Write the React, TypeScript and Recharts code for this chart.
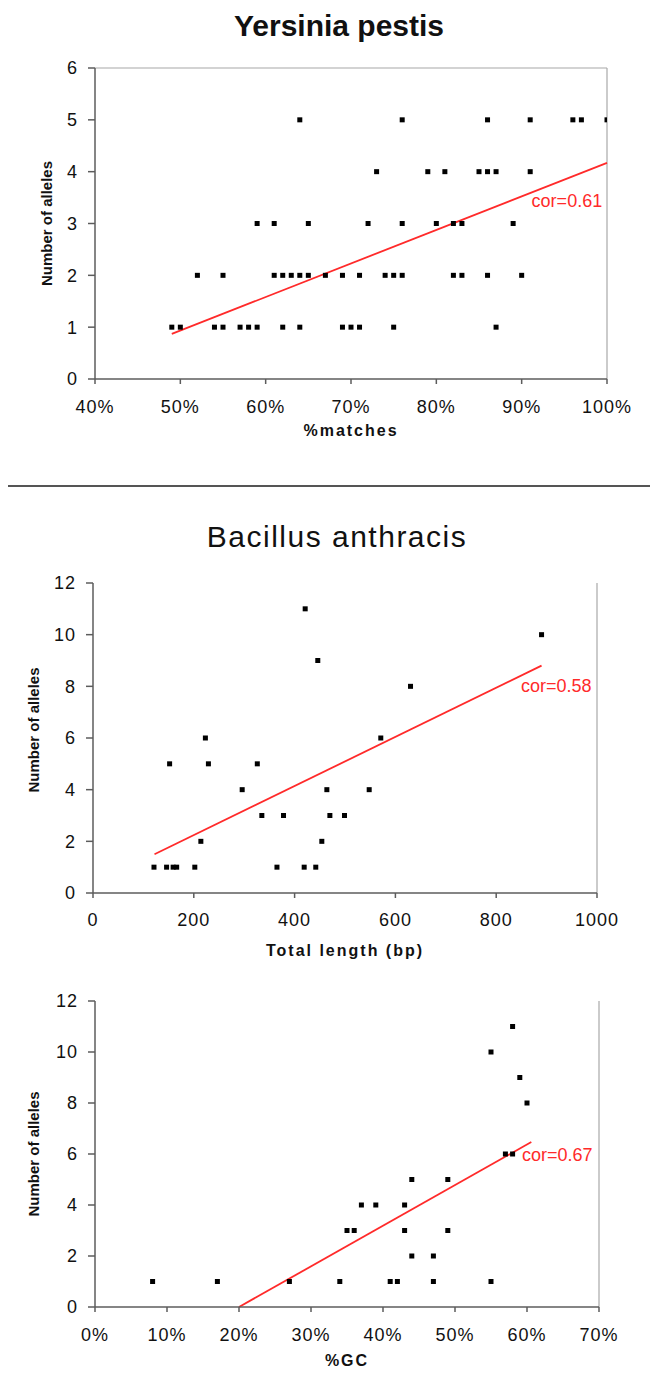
import { ScatterChart, Scatter, XAxis, YAxis, ReferenceLine, ReferenceDot } from "recharts";

const RED = "#ff2a2a";
const AXIS = "#5c5c5c";
const BORDER = "#a8a8a8";
const FONT = '"Liberation Sans", Arial, Helvetica, sans-serif';

// Yersinia pestis: %matches vs number of alleles
const yersiniaMatches = [
  49, 50, 54, 55, 57, 58, 59, 62, 64, 69, 70, 71, 75, 87,
  52, 55, 61, 62, 63, 64, 65, 67, 69, 71, 74, 75, 76, 82, 83, 86, 90,
  59, 61, 65, 72, 76, 80, 82, 83, 89,
  73, 79, 81, 85, 86, 87, 91,
  64, 76, 86, 91, 96, 97, 100,
];
const yersiniaAlleles = [
  1, 1, 1, 1, 1, 1, 1, 1, 1, 1, 1, 1, 1, 1,
  2, 2, 2, 2, 2, 2, 2, 2, 2, 2, 2, 2, 2, 2, 2, 2, 2,
  3, 3, 3, 3, 3, 3, 3, 3, 3,
  4, 4, 4, 4, 4, 4, 4,
  5, 5, 5, 5, 5, 5, 5,
];
const yersiniaFitX = [49, 100];
const yersiniaFitY = [0.87, 4.17];

// Bacillus anthracis: total length vs number of alleles
const anthracisLength = [
  121, 146, 159, 166, 202, 365, 419, 442,
  214, 454,
  335, 378, 470, 499,
  296, 464, 548,
  152, 229, 326,
  223, 571,
  630, 446, 890, 421,
];
const anthracisLengthAlleles = [
  1, 1, 1, 1, 1, 1, 1, 1,
  2, 2,
  3, 3, 3, 3,
  4, 4, 4,
  5, 5, 5,
  6, 6,
  8, 9, 10, 11,
];
const lengthFitX = [122, 890];
const lengthFitY = [1.5, 8.8];

// Bacillus anthracis: %GC vs number of alleles
const anthracisGC = [
  8, 17, 27, 34, 41, 42, 47, 55,
  44, 47,
  35, 36, 43, 49,
  37, 39, 43,
  44, 49,
  57, 58,
  60, 59, 55, 58,
];
const anthracisGCAlleles = [
  1, 1, 1, 1, 1, 1, 1, 1,
  2, 2,
  3, 3, 3, 3,
  4, 4, 4,
  5, 5,
  6, 6,
  8, 9, 10, 11,
];
const gcFitX = [20, 60.6];
const gcFitY = [0, 6.47];

const pctTicks1 = [40, 50, 60, 70, 80, 90, 100];
const alleleTicks1 = [0, 1, 2, 3, 4, 5, 6];
const lengthTicks = [0, 200, 400, 600, 800, 1000];
const gcTicks = [0, 10, 20, 30, 40, 50, 60, 70];
const alleleTicks2 = [0, 2, 4, 6, 8, 10, 12];

function Square(props: any) {
  const { cx, cy } = props;
  if (cx == null || cy == null) return null;
  return <rect x={cx - 2.5} y={cy - 2.5} width={5} height={5} fill="#000" />;
}

interface PanelProps {
  top: number;
  height: number;
  xs: number[];
  ys: number[];
  fitX: number[];
  fitY: number[];
  cor: string;
  corX: number;
  corY: number;
  xDomain: [number, number];
  xTicks: number[];
  pct: boolean;
  yDomain: [number, number];
  yTicks: number[];
  xLabel: string;
  margin: { top: number; right: number; bottom: number; left: number };
  yAxisWidth: number;
  xAxisHeight: number;
  xTickMargin: number;
  xLabelDy: number;
  yLabelX: number;
  yLabelDy: number;
  topBorder: boolean;
}

function Panel(p: PanelProps) {
  const data = p.xs.map((x, i) => ({ x, y: p.ys[i] }));
  const tickStyle = { fontSize: 18, fill: "#111", fontFamily: FONT, letterSpacing: 1 };
  return (
    <div style={{ position: "absolute", left: 0, top: p.top }}>
      <ScatterChart width={650} height={p.height} margin={p.margin}>
        <XAxis
          type="number"
          dataKey="x"
          domain={p.xDomain}
          ticks={p.xTicks}
          interval={0}
          allowDataOverflow
          tickFormatter={(v: number) => (p.pct ? `${v}%` : `${v}`)}
          height={p.xAxisHeight}
          tickSize={5}
          tickMargin={p.xTickMargin}
          stroke={AXIS}
          strokeWidth={1.5}
          tick={tickStyle}
          label={{
            content: (lp: any) => {
              const vb = lp.viewBox || {};
              return (
                <text
                  x={vb.x + vb.width / 2}
                  y={vb.y + p.xLabelDy}
                  textAnchor="middle"
                  dominantBaseline="central"
                  fontSize={16}
                  fontWeight="bold"
                  letterSpacing={2}
                  fontFamily={FONT}
                  fill="#111"
                >
                  {p.xLabel}
                </text>
              );
            },
          }}
        />
        <YAxis
          type="number"
          dataKey="y"
          domain={p.yDomain}
          ticks={p.yTicks}
          interval={0}
          width={p.yAxisWidth}
          tickSize={7}
          tickMargin={10}
          stroke={AXIS}
          strokeWidth={1.5}
          tick={tickStyle}
          label={{
            content: (lp: any) => {
              const vb = lp.viewBox || {};
              const cy = vb.y + vb.height / 2 + p.yLabelDy;
              return (
                <text
                  x={p.yLabelX}
                  y={cy}
                  transform={`rotate(-90, ${p.yLabelX}, ${cy})`}
                  textAnchor="middle"
                  dominantBaseline="central"
                  fontSize={15}
                  fontWeight="bold"
                  fontFamily={FONT}
                  fill="#111"
                >
                  Number of alleles
                </text>
              );
            },
          }}
        />
        {p.topBorder && <ReferenceLine y={p.yDomain[1]} stroke={BORDER} strokeWidth={1.2} />}
        <ReferenceLine x={p.xDomain[1]} stroke={BORDER} strokeWidth={1.2} />
        <Scatter data={data} shape={Square} isAnimationActive={false} />
        <ReferenceLine
          segment={[
            { x: p.fitX[0], y: p.fitY[0] },
            { x: p.fitX[1], y: p.fitY[1] },
          ]}
          stroke={RED}
          strokeWidth={1.8}
        />
        <ReferenceDot
          x={p.corX}
          y={p.corY}
          r={0}
          fill="none"
          stroke="none"
          label={{
            content: (lp: any) => {
              const vb = lp.viewBox || {};
              const cx = vb.cx != null ? vb.cx : vb.x + (vb.width || 0) / 2;
              const cy = vb.cy != null ? vb.cy : vb.y + (vb.height || 0) / 2;
              return (
                <text
                  x={cx}
                  y={cy}
                  textAnchor="middle"
                  dominantBaseline="central"
                  fontSize={18}
                  fontFamily={FONT}
                  fill={RED}
                >
                  {p.cor}
                </text>
              );
            },
          }}
        />
      </ScatterChart>
    </div>
  );
}

export default function App() {
  return (
    <div
      style={{
        position: "absolute",
        left: 0,
        top: 0,
        width: 650,
        height: 1376,
        background: "#fff",
        fontFamily: FONT,
        overflow: "hidden",
      }}
    >
      <div
        style={{
          position: "absolute",
          top: 9,
          left: 0,
          width: 678,
          textAlign: "center",
          fontSize: 30,
          fontWeight: "bold",
          color: "#111",
        }}
      >
        Yersinia pestis
      </div>
      <Panel
        top={0}
        height={480}
        xs={yersiniaMatches}
        ys={yersiniaAlleles}
        fitX={yersiniaFitX}
        fitY={yersiniaFitY}
        cor="cor=0.61"
        corX={95.3}
        corY={3.44}
        xDomain={[40, 100]}
        xTicks={pctTicks1}
        pct
        yDomain={[0, 6]}
        yTicks={alleleTicks1}
        xLabel="%matches"
        margin={{ top: 68, right: 43, bottom: 30, left: 0 }}
        yAxisWidth={95}
        xAxisHeight={71}
        xTickMargin={16}
        xLabelDy={51}
        yLabelX={46}
        yLabelDy={0}
        topBorder
      />
      <div
        style={{
          position: "absolute",
          top: 485,
          left: 8,
          width: 642,
          height: 2,
          background: "#555",
        }}
      />
      <div
        style={{
          position: "absolute",
          top: 520,
          left: 0,
          width: 674,
          textAlign: "center",
          fontSize: 30,
          letterSpacing: 1.5,
          color: "#111",
        }}
      >
        Bacillus anthracis
      </div>
      <Panel
        top={490}
        height={480}
        xs={anthracisLength}
        ys={anthracisLengthAlleles}
        fitX={lengthFitX}
        fitY={lengthFitY}
        cor="cor=0.58"
        corX={919}
        corY={8.03}
        xDomain={[0, 1000]}
        xTicks={lengthTicks}
        pct={false}
        yDomain={[0, 12]}
        yTicks={alleleTicks2}
        xLabel="Total length (bp)"
        margin={{ top: 93, right: 53, bottom: 5, left: 0 }}
        yAxisWidth={93}
        xAxisHeight={72}
        xTickMargin={15}
        xLabelDy={57}
        yLabelX={33}
        yLabelDy={-8}
        topBorder={false}
      />
      <Panel
        top={975}
        height={401}
        xs={anthracisGC}
        ys={anthracisGCAlleles}
        fitX={gcFitX}
        fitY={gcFitY}
        cor="cor=0.67"
        corX={64.2}
        corY={5.95}
        xDomain={[0, 70]}
        xTicks={gcTicks}
        pct
        yDomain={[0, 12]}
        yTicks={alleleTicks2}
        xLabel="%GC"
        margin={{ top: 26, right: 51, bottom: 3, left: 0 }}
        yAxisWidth={95}
        xAxisHeight={66}
        xTickMargin={16}
        xLabelDy={53}
        yLabelX={33}
        yLabelDy={0}
        topBorder={false}
      />
    </div>
  );
}
